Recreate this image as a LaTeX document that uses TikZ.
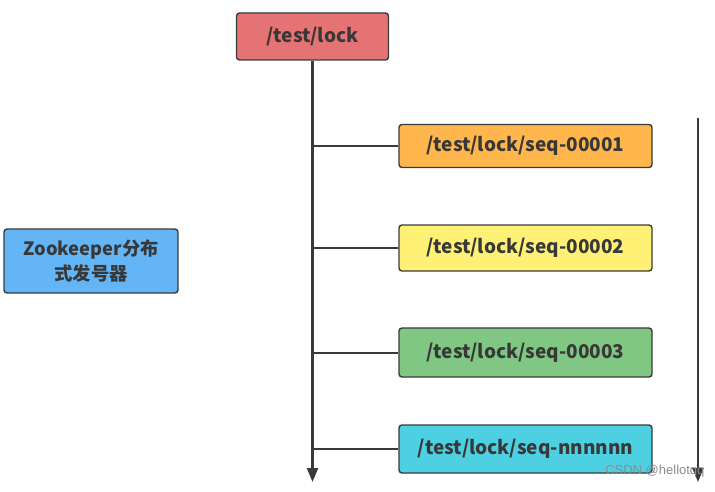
\documentclass[tikz,border=0pt]{standalone}
\usepackage{fontspec}
\setmainfont{Noto Sans CJK SC}
\newfontfamily\wmfont{Liberation Sans}
\usetikzlibrary{arrows.meta}
\definecolor{cred}{HTML}{E57373}
\definecolor{corange}{HTML}{FFB74D}
\definecolor{cyellow}{HTML}{FFF176}
\definecolor{cgreen}{HTML}{81C784}
\definecolor{ccyan}{HTML}{4DD0E1}
\definecolor{cblue}{HTML}{64B5F6}
\definecolor{cline}{HTML}{3A3A3A}
\definecolor{ctext}{HTML}{383838}
\tikzset{
  box/.style={draw=cline, line width=1.4pt, rounded corners=3pt, inner sep=0pt,
    font=\fontsize{19}{22}\selectfont\bfseries, text=ctext, align=center},
  trunk/.style={draw=cline, line width=2.4pt, -{Triangle[length=14pt,width=11pt]}},
  branch/.style={draw=cline, line width=2pt},
}
\begin{document}
\begin{tikzpicture}[x=1pt,y=-1pt]
\useasboundingbox (0,0) rectangle (715,492);
\node[box, fill=cred, minimum width=152pt, minimum height=47pt] (root) at (312.5,36.5) {/test/lock};
\node[box, fill=corange, minimum width=253pt, minimum height=43pt] (s1) at (525.5,146) {/test/lock/seq-00001};
\node[box, fill=cyellow, minimum width=253pt, minimum height=46pt] (s2) at (525.5,248) {/test/lock/seq-00002};
\node[box, fill=cgreen, minimum width=253pt, minimum height=49pt] (s3) at (525.5,352.5) {/test/lock/seq-00003};
\node[box, fill=ccyan, minimum width=253pt, minimum height=48pt] (s4) at (525.5,449) {/test/lock/seq-nnnnnn};
\node[box, fill=cblue, minimum width=174pt, minimum height=64pt, font=\fontsize{18.3}{25}\selectfont\bfseries] (zk) at (91,261) {Zookeeper分布\\式发号器};
\coordinate (tend) at (312.5,482);
\coordinate (rtop) at (698,118);
\coordinate (rend) at (698,482);
\draw[trunk] (root.south) -- (tend);
\draw[trunk, line width=2.2pt] (rtop) -- (rend);
\foreach \n in {s1,s2,s3,s4}{
  \draw[branch] (\n.west) -- (root.south |- \n.west);
}
\node[font=\wmfont\fontsize{13}{15}\selectfont, text=black!45, anchor=east] (wm) at (708,471) {CSDN @hellotqq};
\end{tikzpicture}
\end{document}
